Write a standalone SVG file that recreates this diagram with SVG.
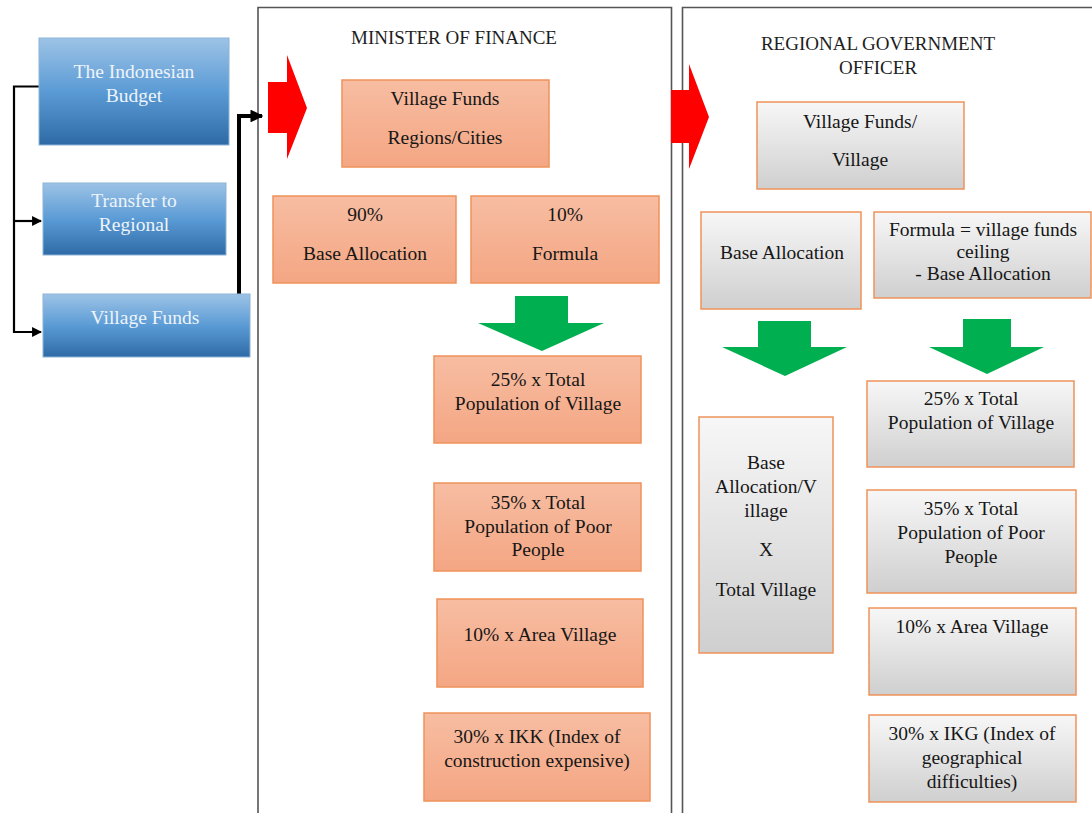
<svg xmlns="http://www.w3.org/2000/svg" width="1092" height="813" viewBox="0 0 1092 813">
<defs>
<linearGradient id="gBlue" x1="0" y1="0" x2="0" y2="1">
<stop offset="0" stop-color="#9DC3E6"/>
<stop offset="0.5" stop-color="#5B9BD5"/>
<stop offset="1" stop-color="#2E6BA6"/>
</linearGradient>
<linearGradient id="gOrange" x1="0" y1="0" x2="0" y2="1">
<stop offset="0" stop-color="#F7BDA2"/>
<stop offset="1" stop-color="#F4A683"/>
</linearGradient>
<linearGradient id="gGray" x1="0" y1="0" x2="0" y2="1">
<stop offset="0" stop-color="#F7F7F7"/>
<stop offset="1" stop-color="#CFCFCF"/>
</linearGradient>
<marker id="ah" viewBox="0 0 10 10" refX="9" refY="5" markerWidth="4.5" markerHeight="4.5" orient="auto" markerUnits="strokeWidth">
<path d="M0,0 L10,5 L0,10 Z" fill="#000"/>
</marker>
<marker id="ah2" viewBox="0 0 10 10" refX="9" refY="5" markerWidth="3.2" markerHeight="3.2" orient="auto" markerUnits="strokeWidth">
<path d="M0,0 L10,5 L0,10 Z" fill="#000"/>
</marker>
</defs>
<style>
text{font-family:"Liberation Serif","Times New Roman",serif;font-size:19.5px;fill:#161616;text-anchor:middle}
.title{font-size:19px;fill:#1e1e1e}
.wt{fill:#EEF4FA}
.blue{fill:url(#gBlue);stroke:#8DB3D8;stroke-width:1}
.orange{fill:url(#gOrange);stroke:#F0925A;stroke-width:1.5}
.gray{fill:url(#gGray);stroke:#F0925A;stroke-width:1.5}
.panel{fill:none;stroke:#555;stroke-width:1.6}
.red{fill:#FF0000}
.green{fill:#00B050}
.conn{fill:none;stroke:#000}
</style>
<rect width="1092" height="813" fill="#fff"/>
<g id="panels">
<path class="panel" d="M258,813 V7.5 H671.5 V813"/>
<path class="panel" d="M682.5,813 V7.5 H1092"/>
<text class="title" x="454" y="44">MINISTER OF FINANCE</text>
<text class="title" x="878" y="50">REGIONAL GOVERNMENT</text>
<text class="title" x="878" y="74">OFFICER</text>
</g>
<g id="connectors">
<path class="conn" stroke-width="2.2" d="M39,86.5 H14 V332 H41" marker-end="url(#ah)"/>
<path class="conn" stroke-width="2.2" d="M14,221 H41" marker-end="url(#ah)"/>
<path class="conn" stroke-width="4" d="M239,294 V116 H262" marker-end="url(#ah2)"/>
</g>
<g id="arrows">
<polygon class="red" points="268,82 287,82 287,55 307,108 287,159 287,133 268,133"/>
<polygon class="red" points="671,90 689,90 689,64 709,117 689,169 689,143 671,143"/>
<polygon class="green" points="515,296 568,296 568,323 604,323 542,351 478,323 515,323"/>
<polygon class="green" points="758,321 811,321 811,347 847,347 785,376 722,347 758,347"/>
<polygon class="green" points="963,319 1011,319 1011,347 1044,347 987,374 929,347 963,347"/>
</g>
<g id="n-budget"><rect class="blue" x="39" y="38" width="190" height="107"/><text class="wt" x="134" y="78">The Indonesian</text><text class="wt" x="134" y="102">Budget</text></g>
<g id="n-transfer"><rect class="blue" x="43" y="183" width="183" height="72"/><text class="wt" x="134" y="207">Transfer to</text><text class="wt" x="134" y="231">Regional</text></g>
<g id="n-villagefunds"><rect class="blue" x="43" y="294" width="207" height="63"/><text class="wt" x="145" y="324">Village Funds</text></g>

<g id="n-vf-regions"><rect class="orange" x="342" y="80" width="207" height="87"/><text x="445" y="105">Village Funds</text><text x="445" y="144">Regions/Cities</text></g>
<g id="n-90"><rect class="orange" x="273" y="196" width="183" height="87"/><text x="365" y="221">90%</text><text x="365" y="260">Base Allocation</text></g>
<g id="n-10"><rect class="orange" x="471" y="196" width="188" height="87"/><text x="565" y="221">10%</text><text x="565" y="260">Formula</text></g>
<g id="n-l25"><rect class="orange" x="434" y="356" width="207" height="87"/><text x="538" y="386">25% x Total</text><text x="538" y="410">Population of Village</text></g>
<g id="n-l35"><rect class="orange" x="434" y="483" width="207" height="88"/><text x="538" y="509">35% x Total</text><text x="538" y="533">Population of Poor</text><text x="538" y="556">People</text></g>
<g id="n-l10"><rect class="orange" x="437" y="599" width="206" height="88"/><text x="540" y="641">10% x Area Village</text></g>
<g id="n-l30"><rect class="orange" x="424" y="713" width="226" height="88"/><text x="537" y="743">30% x IKK (Index of</text><text x="537" y="767">construction expensive)</text></g>

<g id="n-vf-village"><rect class="gray" x="757" y="102" width="207" height="87"/><text x="860" y="128">Village Funds/</text><text x="860" y="166">Village</text></g>
<g id="n-base"><rect class="gray" x="701" y="212" width="160" height="97"/><text x="782" y="259">Base Allocation</text></g>
<g id="n-formula"><rect class="gray" x="874" y="212" width="217" height="86"/><text x="983" y="236">Formula = village funds</text><text x="983" y="258">ceiling</text><text x="983" y="280">- Base Allocation</text></g>
<g id="n-basevillage"><rect class="gray" x="699" y="417" width="134" height="236"/><text x="766" y="469">Base</text><text x="766" y="493">Allocation/V</text><text x="766" y="517">illage</text><text x="766" y="556">X</text><text x="766" y="596">Total Village</text></g>
<g id="n-r25"><rect class="gray" x="867" y="381" width="207" height="86"/><text x="971" y="405">25% x Total</text><text x="971" y="429">Population of Village</text></g>
<g id="n-r35"><rect class="gray" x="867" y="490" width="209" height="103"/><text x="971" y="515">35% x Total</text><text x="971" y="539">Population of Poor</text><text x="971" y="563">People</text></g>
<g id="n-r10"><rect class="gray" x="869" y="608" width="207" height="87"/><text x="972" y="633">10% x Area Village</text></g>
<g id="n-r30"><rect class="gray" x="869" y="715" width="207" height="87"/><text x="972" y="740">30% x IKG (Index of</text><text x="972" y="764">geographical</text><text x="972" y="788">difficulties)</text></g>
</svg>
